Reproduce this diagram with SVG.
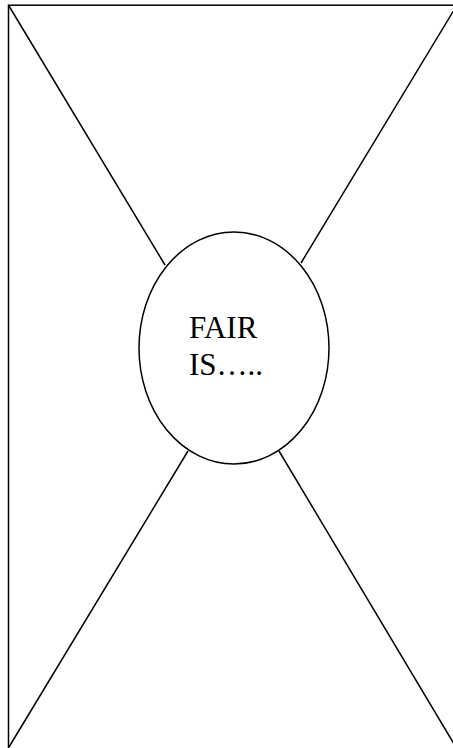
<svg xmlns="http://www.w3.org/2000/svg" width="453" height="748" viewBox="0 0 453 748">
<style>
.s{fill:none;stroke:#000;stroke-width:1.5}
.t{font-family:"Liberation Serif","Times New Roman",serif;font-size:31px;fill:#000}
</style>
<rect width="453" height="748" fill="#fff"/>
<g id="frame"><rect class="s" x="8.5" y="5.2" width="452" height="752"/></g>
<g id="connectors">
<line class="s" x1="9" y1="6" x2="165" y2="265"/>
<line class="s" x1="457" y1="5" x2="301" y2="263"/>
<line class="s" x1="9" y1="747" x2="188" y2="451"/>
<line class="s" x1="457" y1="749" x2="279" y2="451"/>
</g>
<g id="center">
<ellipse class="s" cx="234" cy="348" rx="95" ry="116" fill="#fff"/>
<text class="t" x="189" y="338">FAIR</text>
<text class="t" x="189" y="375">IS…..</text>
</g>
</svg>
